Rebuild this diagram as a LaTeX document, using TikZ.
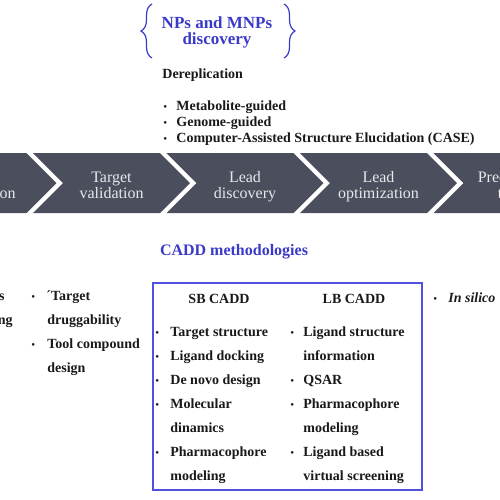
\documentclass[tikz,border=0pt]{standalone}
\usepackage{fontspec}
\setmainfont{Liberation Serif}
\usetikzlibrary{decorations.pathreplacing}
\definecolor{chev}{RGB}{75,78,92}
\definecolor{chevtxt}{RGB}{232,232,236}
\definecolor{caddblue}{RGB}{58,58,200}
\definecolor{boxblue}{RGB}{80,80,225}
\definecolor{txt}{RGB}{25,25,25}
\begin{document}
\begin{tikzpicture}[x=0.5pt,y=-0.5pt,
  lbl/.style={inner sep=0pt,anchor=base west,font=\fontsize{7}{8}\selectfont\bfseries,text=txt},
  lblc/.style={inner sep=0pt,anchor=base,font=\fontsize{7}{8}\selectfont\bfseries,text=txt},
  bul/.style={inner sep=0pt,anchor=base west,font=\fontsize{5.5}{6}\selectfont,text=txt},
  chevtext/.style={inner sep=0pt,anchor=base,text=chevtxt,font=\fontsize{8}{8}\selectfont},
  head/.style={inner sep=0pt,anchor=base,text=caddblue,font=\fontsize{8.5}{9}\selectfont\bfseries},
  bracestyle/.style={draw=caddblue,line width=0.6pt,decorate,decoration={brace,amplitude=5.5pt}}]
\useasboundingbox (0,0) rectangle (500,500);
\clip (0,0) rectangle (500,500);
% chevrons
\foreach \k in {0,...,4} {
  \pgfmathsetmacro\L{-100.5+\k*133.5}
  \fill[chev] (\L,153) -- (\L+127,153) -- (\L+157,183) -- (\L+127,213) -- (\L,213) -- (\L+30,183) -- cycle;
}
\node[chevtext] (ch1a) at (-27,182) {Target};
\node[chevtext] (ch1b) at (-27,198) {identification};
\node[chevtext] (ch2a) at (111.5,182) {Target};
\node[chevtext] (ch2b) at (111.5,198) {validation};
\node[chevtext] (ch3a) at (245,182) {Lead};
\node[chevtext] (ch3b) at (245,198) {discovery};
\node[chevtext] (ch4a) at (378.5,182) {Lead};
\node[chevtext] (ch4b) at (378.5,198) {optimization};
\node[chevtext] (ch5a) at (512,182) {Preclinical};
\node[chevtext] (ch5b) at (512,198) {tests};
% header
\node[head] (np1) at (217,28) {NPs and MNPs};
\node[head] (np2) at (217,44) {discovery};
\coordinate (lb1) at (152,58);
\coordinate (lb2) at (152,4);
\coordinate (rb1) at (284,4);
\coordinate (rb2) at (284,58);
\draw[bracestyle] (lb1) -- (lb2);
\draw[bracestyle] (rb1) -- (rb2);
\node[lbl] (derep) at (162,78) {Dereplication};
\node[bul] (b1) at (163,110) {•};
\node[lbl] (m1) at (176,110) {Metabolite-guided};
\node[bul] (b2) at (163,126) {•};
\node[lbl] (m2) at (176,126) {Genome-guided};
\node[bul] (b3) at (163,142) {•};
\node[lbl] (m3) at (176,142) {Computer-Assisted Structure Elucidation (CASE)};
% CADD title
\node[head,font=\fontsize{8}{9}\selectfont\bfseries] (cadd) at (234,255) {CADD methodologies};
% box
\draw[boxblue,line width=0.6pt] (153,283) rectangle (422,490);
\node[lblc] (sb) at (219,303) {SB CADD};
\node[lblc] (lbc) at (354,303) {LB CADD};
% SB list
\node[bul] (sbb1) at (155,336) {•};
\node[lbl] (sb1) at (170,336) {Target structure};
\node[bul] (sbb2) at (155,360) {•};
\node[lbl] (sb2) at (170,360) {Ligand docking};
\node[bul] (sbb3) at (155,384) {•};
\node[lbl] (sb3) at (170,384) {De novo design};
\node[bul] (sbb4) at (155,408) {•};
\node[lbl] (sb4) at (170,408) {Molecular};
\node[lbl] (sb5) at (170,432) {dinamics};
\node[bul] (sbb6) at (155,456) {•};
\node[lbl] (sb6) at (170,456) {Pharmacophore};
\node[lbl] (sb7) at (170,480) {modeling};
% LB list
\node[bul] (lbb1) at (290,336) {•};
\node[lbl] (lb1t) at (303,336) {Ligand structure};
\node[lbl] (lb2t) at (303,360) {information};
\node[bul] (lbb3) at (290,384) {•};
\node[lbl] (lb3t) at (303,384) {QSAR};
\node[bul] (lbb4) at (290,408) {•};
\node[lbl] (lb4t) at (303,408) {Pharmacophore};
\node[lbl] (lb5t) at (303,432) {modeling};
\node[bul] (lbb6) at (290,456) {•};
\node[lbl] (lb6t) at (303,456) {Ligand based};
\node[lbl] (lb7t) at (303,480) {virtual screening};
% left column
\node[lbl,anchor=base east] (fl1) at (5,300) {s};
\node[lbl,anchor=base east] (fl2) at (13,324) {ng};
\node[bul] (lcb1) at (31,300) {•};
\node[lbl] (lc1) at (46,300) {´Target};
\node[lbl] (lc2) at (47,324) {druggability};
\node[bul] (lcb3) at (31,348) {•};
\node[lbl] (lc3) at (47,348) {Tool compound};
\node[lbl] (lc4) at (47,372) {design};
% right
\node[bul] (rcb) at (433,302) {•};
\node[lbl,font=\fontsize{7}{8}\selectfont\bfseries\itshape] (rc) at (448,302) {In silico};
\end{tikzpicture}
\end{document}
